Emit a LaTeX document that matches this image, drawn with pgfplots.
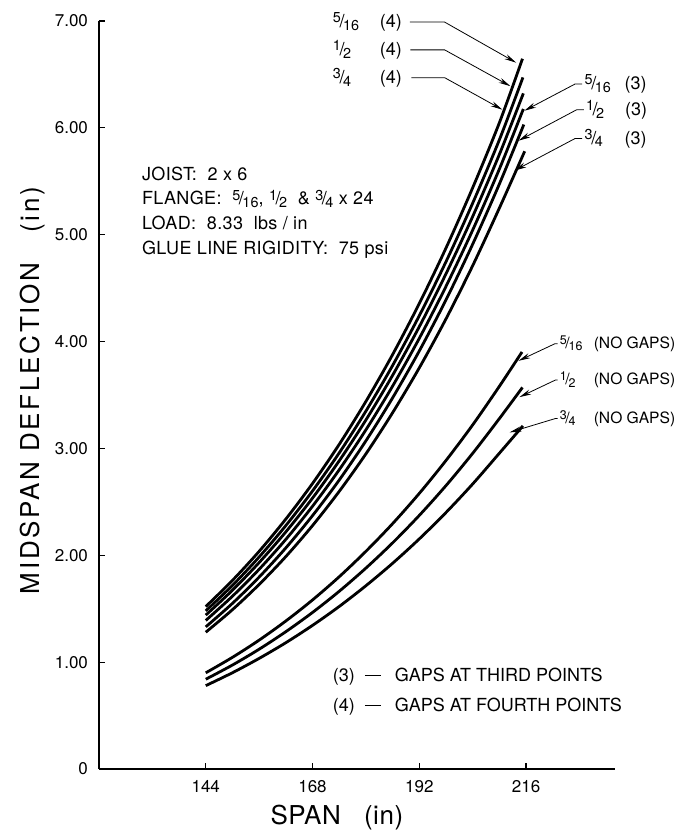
\documentclass[border=0pt]{standalone}
\usepackage{fontspec}
\setmainfont{TeX Gyre Heros}
\newfontfamily\spaced[LetterSpace=2]{TeX Gyre Heros}
\newfontfamily\wide[LetterSpace=10.5]{TeX Gyre Heros}
\usepackage{graphicx}
\usepackage{pgfplots}
\pgfplotsset{compat=1.18}
\usetikzlibrary{arrows.meta}
\newcommand{\fr}[2]{\raisebox{0.5ex}{\scalebox{0.8}{#1}}\kern-0.08em/\kern-0.08em\raisebox{-0.3ex}{\scalebox{0.8}{#2}}}
\pgfplotstableread{
x y
144 1.520
150 1.765
156 2.037
162 2.339
168 2.672
174 3.038
180 3.440
186 3.878
192 4.356
198 4.875
204 5.439
210 6.047
215.2 6.647
}\tabA
\pgfplotstableread{
x y
144 1.480
150 1.718
156 1.984
162 2.278
168 2.602
174 2.958
180 3.349
186 3.776
192 4.242
198 4.747
204 5.295
210 5.888
215.3 6.472
}\tabB
\pgfplotstableread{
x y
144 1.440
150 1.673
156 1.932
162 2.219
168 2.535
174 2.884
180 3.266
186 3.684
192 4.139
198 4.634
204 5.170
210 5.751
215.4 6.323
}\tabC
\pgfplotstableread{
x y
144 1.390
150 1.617
156 1.869
162 2.149
168 2.459
174 2.800
180 3.174
186 3.583
192 4.030
198 4.516
204 5.043
210 5.614
215.4 6.177
}\tabD
\pgfplotstableread{
x y
144 1.330
150 1.550
156 1.796
162 2.069
168 2.371
174 2.704
180 3.071
186 3.473
192 3.912
198 4.390
204 4.911
210 5.474
215.5 6.031
}\tabE
\pgfplotstableread{
x y
144 1.280
150 1.491
156 1.727
162 1.988
168 2.278
174 2.598
180 2.949
186 3.334
192 3.754
198 4.212
204 4.710
210 5.249
215.7 5.781
}\tabF
\pgfplotstableread{
x y
144 0.900
150 1.045
156 1.206
162 1.385
168 1.582
174 1.799
180 2.037
186 2.296
192 2.579
198 2.887
204 3.220
210 3.581
215.1 3.903
}\tabG
\pgfplotstableread{
x y
144 0.840
150 0.973
156 1.121
162 1.285
168 1.465
174 1.663
180 1.880
186 2.116
192 2.373
198 2.652
204 2.954
210 3.279
215.2 3.571
}\tabH
\pgfplotstableread{
x y
144 0.780
150 0.901
156 1.035
162 1.182
168 1.344
174 1.521
180 1.715
186 1.925
192 2.153
198 2.400
204 2.667
210 2.955
215.3 3.211
}\tabI
\begin{document}
\begin{tikzpicture}
\begin{axis}[
  at={(0,0)}, anchor=south west,
  scale only axis, width=258pt, height=374pt,
  xmin=120, xmax=236, ymin=0, ymax=7,
  axis x line=bottom, axis y line=left,
  axis line style={-, line width=0.6pt},
  tick align=inside, major tick length=3pt,
  tick style={line width=0.6pt, black},
  xtick={144,168,192,216},
  ytick={0,1,2,3,4,5,6,7},
  yticklabels={0,1.00,2.00,3.00,4.00,5.00,6.00,7.00},
  /pgf/number format/assume math mode=true,
  ticklabel style={font=\fontsize{8.5}{10}\selectfont},
  xticklabel style={yshift=-2pt},
  yticklabel style={xshift=-2pt},
  xlabel={SPAN\ \ \ (in)},
  ylabel={MIDSPAN DEFLECTION\ \ \ (in)},
  xlabel style={at={(axis description cs:0.461,-0.0655)}, anchor=center, font=\spaced\fontsize{13}{15}\selectfont},
  ylabel style={at={(axis description cs:-0.128,0.506)}, anchor=center, font=\wide\fontsize{13}{15}\selectfont},
  clip=false,
  curve/.style={black, solid, line width=1.4pt, smooth, no marks},
]
\addplot[curve] table {\tabA};
\addplot[curve] table {\tabB};
\addplot[curve] table {\tabC};
\addplot[curve] table {\tabD};
\addplot[curve] table {\tabE};
\addplot[curve] table {\tabF};
\addplot[curve] table {\tabG};
\addplot[curve] table {\tabH};
\addplot[curve] table {\tabI};

% info block
\node[anchor=north west, inner sep=0pt, align=left, font=\spaced\fontsize{9}{12.4}\selectfont]
  at (axis cs:129.6,5.64)
  {JOIST:\ \ 2 x 6\\
   FLANGE:\ \ \fr{5}{16}, \fr{1}{2}\ \ \& \fr{3}{4} x 24\\
   LOAD:\ \ 8.33\ \ lbs / in\\
   GLUE LINE RIGIDITY:\ \ 75 psi};

\begin{scope}[every node/.style={anchor=west, inner sep=0pt, font=\fontsize{9}{11}\selectfont}]
\node at (axis cs:172.5,6.99) {\makebox[23.5pt][l]{\fr{5}{16}}(4)};
\node at (axis cs:172.5,6.73) {\makebox[23.5pt][l]{\fr{1}{2}}(4)};
\node at (axis cs:172.5,6.47) {\makebox[23.5pt][l]{\fr{3}{4}}(4)};
\node at (axis cs:229.1,6.41) {\makebox[20pt][l]{\fr{5}{16}}(3)};
\node at (axis cs:229.4,6.17) {\makebox[19.5pt][l]{\fr{1}{2}}(3)};
\node at (axis cs:229.1,5.90) {\makebox[20pt][l]{\fr{3}{4}}(3)};
\node[font=\fontsize{7.8}{10}\selectfont] at (axis cs:223.5,3.98) {\makebox[17pt][l]{\fr{5}{16}}(NO GAPS)};
\node[font=\fontsize{7.8}{10}\selectfont] at (axis cs:223.5,3.64) {\makebox[17pt][l]{\fr{1}{2}}(NO GAPS)};
\node[font=\fontsize{7.8}{10}\selectfont] at (axis cs:223.5,3.28) {\makebox[17pt][l]{\fr{3}{4}}(NO GAPS)};
\node at (axis cs:172.5,0.86) {(3)\hspace{5pt}\rule[2.9pt]{8pt}{0.6pt}\hspace{7pt}GAPS\ AT\ THIRD\ POINTS};
\node at (axis cs:172.5,0.58) {(4)\hspace{5pt}\rule[2.9pt]{8pt}{0.6pt}\hspace{7pt}GAPS\ AT\ FOURTH\ POINTS};
\end{scope}

\begin{scope}[line width=0.4pt, -{Stealth[length=6pt,width=2.6pt]}]
\draw (axis cs:189.9,6.99) -- (axis cs:197.7,6.99) -- (axis cs:213.8,6.61);
\draw (axis cs:190.0,6.73) -- (axis cs:197.7,6.73) -- (axis cs:212.5,6.39);
\draw (axis cs:190.2,6.47) -- (axis cs:197.7,6.47) -- (axis cs:210.7,6.17);
\draw (axis cs:228.6,6.41) -- (axis cs:227.0,6.41) -- (axis cs:215.6,6.16);
\draw (axis cs:229.0,6.17) -- (axis cs:227.4,6.17) -- (axis cs:214.3,5.88);
\draw (axis cs:228.6,5.90) -- (axis cs:227.0,5.90) -- (axis cs:213.4,5.60);
\draw (axis cs:223.1,3.98) -- (axis cs:222.5,3.98) -- (axis cs:214.3,3.82);
\draw (axis cs:223.1,3.64) -- (axis cs:222.6,3.64) -- (axis cs:214.5,3.48);
\draw (axis cs:223.1,3.28) -- (axis cs:222.6,3.28) -- (axis cs:212.3,3.15);
\end{scope}
\end{axis}
\pgfresetboundingbox
\path[use as bounding box] (-49.5pt,-34pt) rectangle (291pt,384.5pt);
\end{tikzpicture}
\end{document}
